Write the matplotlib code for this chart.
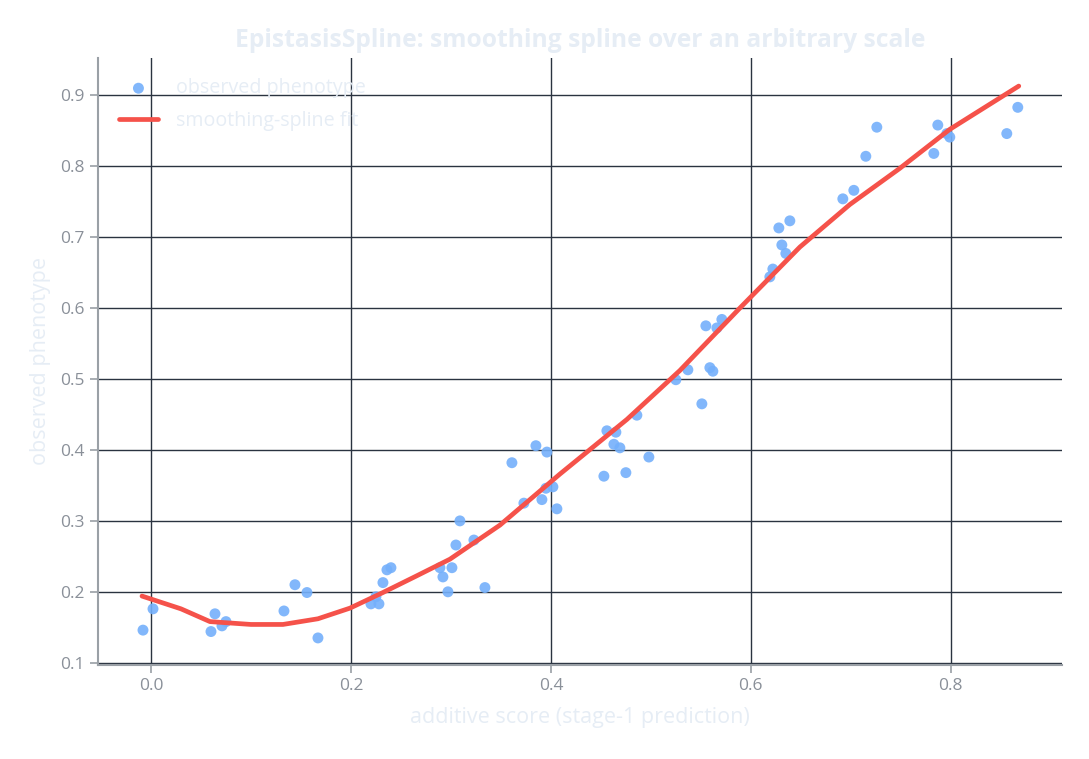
import matplotlib
matplotlib.use("Agg")
import matplotlib.pyplot as plt
import numpy as np

plt.rcParams['font.family'] = ['Open Sans', 'DejaVu Sans']

# observed points (additive score, phenotype)
score = [-0.008, 0.002, 0.060, 0.064, 0.071, 0.075, 0.133, 0.144, 0.156, 0.167,
         0.220, 0.225, 0.228, 0.232, 0.236, 0.240, 0.289, 0.292, 0.297, 0.301,
         0.305, 0.309, 0.323, 0.334, 0.361, 0.373, 0.385, 0.391, 0.395, 0.396,
         0.402, 0.406, 0.453, 0.456, 0.463, 0.465, 0.469, 0.475, 0.486, 0.498,
         0.525, 0.537, 0.551, 0.555, 0.559, 0.562, 0.566, 0.571, 0.619, 0.622,
         0.628, 0.631, 0.635, 0.639, 0.692, 0.703, 0.715, 0.726, 0.783, 0.787,
         0.796, 0.799, 0.856, 0.867]
pheno = [0.146, 0.176, 0.144, 0.169, 0.152, 0.158, 0.173, 0.210, 0.199, 0.135,
         0.183, 0.193, 0.183, 0.213, 0.231, 0.234, 0.234, 0.221, 0.200, 0.234,
         0.266, 0.300, 0.273, 0.206, 0.382, 0.325, 0.406, 0.330, 0.346, 0.397,
         0.348, 0.317, 0.363, 0.427, 0.408, 0.425, 0.403, 0.368, 0.449, 0.390,
         0.499, 0.513, 0.465, 0.575, 0.516, 0.511, 0.572, 0.584, 0.644, 0.655,
         0.713, 0.689, 0.677, 0.723, 0.754, 0.766, 0.814, 0.855, 0.818, 0.858,
         0.846, 0.841, 0.846, 0.883]

# smoothing spline evaluated on a grid
fit_x = [-0.009, 0.030, 0.059, 0.100, 0.132, 0.167, 0.199, 0.232, 0.265, 0.299,
         0.349, 0.409, 0.476, 0.529, 0.589, 0.649, 0.699, 0.749, 0.799, 0.868]
fit_y = [0.194, 0.176, 0.158, 0.154, 0.154, 0.162, 0.177, 0.199, 0.222, 0.246,
         0.294, 0.366, 0.443, 0.512, 0.600, 0.686, 0.746, 0.797, 0.852, 0.913]

light = '#e6edf5'
grey = '#9aa0a6'

fig = plt.figure(figsize=(10.89, 7.59), dpi=100)
ax = fig.add_axes([0.09, 0.124, 0.885, 0.8])

ax.scatter(score, pheno, s=62, color='#74b0fb', alpha=0.9, edgecolors='none',
           label='observed phenotype', zorder=3)
ax.plot(fit_x, fit_y, color='#f5524a', lw=3.4, label='smoothing-spline fit',
        solid_capstyle='round', zorder=4)

ax.set_xlim(-0.053, 0.911)
ax.set_ylim(0.097, 0.953)
ax.set_xticks([0.0, 0.2, 0.4, 0.6, 0.8])
ax.set_yticks([0.1, 0.2, 0.3, 0.4, 0.5, 0.6, 0.7, 0.8, 0.9])

ax.grid(True, color='#2a3340', lw=1)
ax.set_axisbelow(True)
for side in ['top', 'right']:
    ax.spines[side].set_visible(False)
for side in ['left', 'bottom']:
    ax.spines[side].set_color(grey)
    ax.spines[side].set_linewidth(1.5)
ax.tick_params(colors=grey, labelcolor='#8a9099', labelsize=12.5, length=6, width=1.2)

ax.set_title('EpistasisSpline: smoothing spline over an arbitrary scale',
             color=light, fontsize=17.7, fontweight='bold', pad=8)
ax.set_xlabel('additive score (stage-1 prediction)', color=light, fontsize=15.5, labelpad=9)
ax.set_ylabel('observed phenotype', color=light, fontsize=15.5, labelpad=7)

leg = ax.legend(loc='upper left', frameon=False, fontsize=14.2, handlelength=2.0,
                borderaxespad=0.65, labelspacing=0.65, handletextpad=0.9)
for t in leg.get_texts():
    t.set_color(light)

fig.savefig('out.png', dpi=100)
